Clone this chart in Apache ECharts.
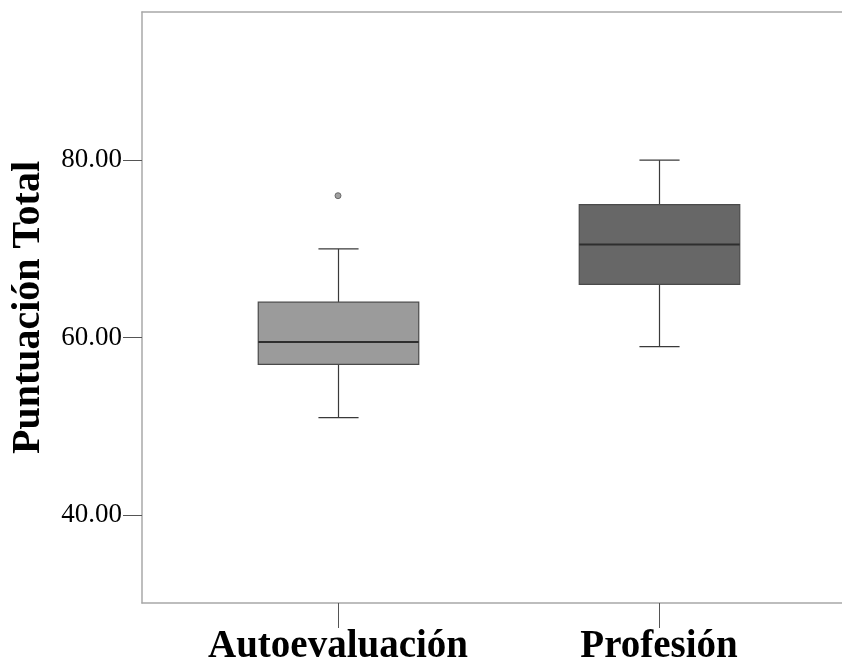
<!DOCTYPE html>
<html>
<head>
<meta charset="utf-8">
<script src="https://cdn.jsdelivr.net/npm/echarts@6/dist/echarts.min.js"></script>
<style>
html,body{margin:0;padding:0;background:#fff;}
#c{width:842px;height:667px;}
</style>
</head>
<body>
<div id="c"></div>
<script>
// ---- data ----
const categories = ['Autoevaluación', 'Profesión'];
const whiskerLow = [51, 59];
const q1 = [57, 66];
const median = [59.5, 70.5];
const q3 = [64, 75];
const whiskerHigh = [70, 80];
const outliers = [[0, 76]]; // [category index, value]
const yTicks = [40, 60, 80];

// ---- styles ----
const boxFills = ['#9b9b9b', '#676767'];
const frameStyle = { color: '#a8a8a8', width: 1.5 };

const boxData = categories.map((c, i) => [i, whiskerLow[i], q1[i], median[i], q3[i], whiskerHigh[i]]);

function renderItem(params, api) {
  const x = api.value(0);
  const pMin = api.coord([x, api.value(1)]);
  const pQ1 = api.coord([x, api.value(2)]);
  const pMed = api.coord([x, api.value(3)]);
  const pQ3 = api.coord([x, api.value(4)]);
  const pMax = api.coord([x, api.value(5)]);
  const halfBox = api.size([0.25, 0])[0];
  const halfCap = api.size([0.0625, 0])[0];
  const cx = Math.round(pMed[0]) + 0.5;
  const lineStyle = { stroke: '#3a3a3a', lineWidth: 1.2 };
  return {
    type: 'group',
    children: [
      { type: 'line', shape: { x1: cx, y1: pMax[1], x2: cx, y2: pQ3[1] }, style: lineStyle },
      { type: 'line', shape: { x1: cx, y1: pQ1[1], x2: cx, y2: pMin[1] }, style: lineStyle },
      { type: 'line', shape: { x1: cx - halfCap, y1: pMax[1], x2: cx + halfCap, y2: pMax[1] }, style: lineStyle },
      { type: 'line', shape: { x1: cx - halfCap, y1: pMin[1], x2: cx + halfCap, y2: pMin[1] }, style: lineStyle },
      { type: 'rect', shape: { x: cx - halfBox, y: pQ3[1], width: halfBox * 2, height: pQ1[1] - pQ3[1] },
        style: { fill: boxFills[params.dataIndex], stroke: '#4a4a4a', lineWidth: 1.2 } },
      { type: 'line', shape: { x1: cx - halfBox, y1: pMed[1], x2: cx + halfBox, y2: pMed[1] },
        style: { stroke: '#2e2e2e', lineWidth: 2 } }
    ]
  };
}

const xMin = -0.6106, xMax = 1.570;

const chart = echarts.init(document.getElementById('c'), null, { renderer: 'canvas' });
chart.setOption({
  animation: false,
  backgroundColor: '#ffffff',
  grid: { left: 142, right: 0, top: 12, bottom: 64, show: false, containLabel: false, outerBoundsMode: 'none' },
  xAxis: [{
    type: 'value', min: xMin, max: xMax, position: 'bottom',
    splitLine: { show: false },
    axisLine: { show: true, onZero: false, lineStyle: frameStyle },
    axisTick: { show: true, customValues: [0, 1], length: 25, inside: false, lineStyle: { color: '#555', width: 1 } },
    axisLabel: {
      customValues: [0, 1],
      formatter: v => categories[Math.round(v)],
      margin: 24, color: '#000', fontFamily: 'Liberation Serif', fontWeight: 'bold', fontSize: 39
    }
  }, {
    type: 'value', min: xMin, max: xMax, position: 'top',
    splitLine: { show: false },
    axisLine: { show: true, onZero: false, lineStyle: frameStyle },
    axisTick: { show: false },
    axisLabel: { show: false }
  }],
  yAxis: {
    type: 'value', min: 30.1, max: 96.7, position: 'left',
    name: 'Puntuación Total', nameLocation: 'middle', nameGap: 93,
    nameTextStyle: { color: '#000', fontFamily: 'Liberation Serif', fontWeight: 'bold', fontSize: 40 },
    splitLine: { show: false },
    axisLine: { show: true, onZero: false, lineStyle: frameStyle },
    axisTick: { show: true, customValues: yTicks, length: 19, lineStyle: { color: '#555', width: 1 } },
    axisLabel: {
      customValues: yTicks,
      formatter: v => Number(v).toFixed(2),
      margin: 20, color: '#000', fontFamily: 'Liberation Serif', fontSize: 27
    }
  },
  series: [
    { type: 'custom', renderItem: renderItem, data: boxData, encode: { x: 0, y: [1, 2, 3, 4, 5] }, clip: false },
    { type: 'scatter', data: outliers, symbol: 'circle', symbolSize: 6,
      itemStyle: { color: '#8a8a8a', borderColor: '#555', borderWidth: 1 } }
  ]
});
</script>
</body>
</html>
